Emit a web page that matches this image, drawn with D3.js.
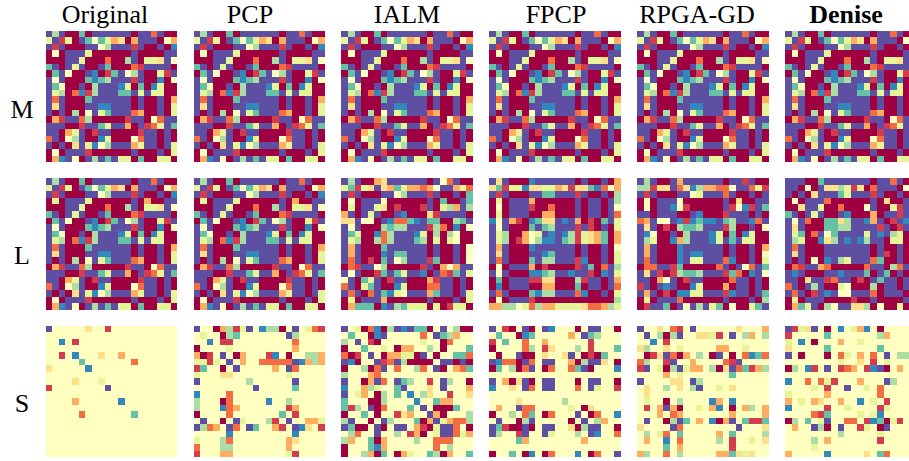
<!DOCTYPE html>
<html><head><meta charset="utf-8">
<script src="https://cdn.jsdelivr.net/npm/d3@7"></script>
<style>html,body{margin:0;padding:0;background:#fff;overflow:hidden}svg{display:block}
text{font-family:"Liberation Serif",serif;fill:#000}</style></head><body>
<script>
const methods=["Original","PCP","IALM","FPCP","RPGA-GD","Denise"];
const rowNames=["M","L","S"];
const titleCentres=[105,250,407,556,697,846];
const rowLabelY=[118,264,412];
// Each row is one string of 20 cells; 0..a (hex) = level on the Spectral scale, 5 = pale centre
const mOriginal=["a7a0080aaaaaa0aa2a00","6a160a85863403aaa053","a1a000aa57aaa1a00a09","050aaa6000000a0000aa","000aa60002007a0664a5","8a0a6a00a800021aaaa0","08a500a9018a57a0061a","a5a0008987aaa1a00905","a8500a07aaa960809600","a6702917aaa88a6a6600","a2a0008aaaaaa0a00a03","a4a000aa99aaa0a00a06","a0a0705a68aaa2300a06","031aa27000001aa052aa","aaa001aa86aa30a126a8","aa036a01aa00001aa0a0","2a057a009600052aa0a0","a0a04a6957aaa36aa0a6","050aaa1000000a000a06","039a50a7a8a660800660"];
const lOriginal=["a7a0080aaaaaa0aa2a00","6a160a85863403aaa053","a1a000aa57aaa1a00a09","060aaa6000000a0300aa","000aa60002007a0664a5","8a0a6a00a800021aaaa0","08a500a9018a57a0061a","a5a0008987aaa1a00905","a8500a07aaa960809600","a6702917aaa88a6a6600","a2a0008aaaaaa0a00a03","a4a000aa99aaa0a00a06","a0a0705a68aaa2300a06","031aa27000001aa052aa","aaa001aa86aa30a126a8","aa036a01aa00001aa0a0","2a057a009600052aa0a0","a0a04a6957aaa36aa0a6","050aaa1000000a000a06","039a50a7a8a660800660"];
const lPcp=lOriginal;
const lIalm=["a7a0034aaaaaa0a52a00","68164a438633235aa362","a1a000aa57aaa1a00a08","050aaa5000000a0800a8","060aa64010001a0673a7","3a0a6a00a900041aaaa0","44a550a92289a880078a","a5a0007877aaa1720905","a8600927aaa960707500","a6700727aaa870606500","a3a0008aaaaaa0a00a05","a3a0009a88aaa0a00a05","a2a0108a57aaa1800a05","021aa57000001a0353aa","a5a0018a86aa90a218a6","5a086a01aa00031aa0a0","2a068a009600022aa0a0","a2a02a8965aaa38aa0a6","060aaa3000000a000a06","0388809a786660601660"];
const lFpcp=["a4a0009aaaaaa0a00a03","48166944663414489253","a1a000aa88aaa1a00a07","060aaa3000000a0aa0a7","050aaa1002000a0aa0a5","060aaa0033000a0aa0a2","95a3109844a9a30108a6","a5a0008a87aaa1a10a06","a6700356a9a971643803","a670135799a871643803","a3a0009aaaaaa0a00a05","a4a000aa98aaa0a00a06","a2a0008a77aaa1900a06","050aaa30100001a802a7","a5a0009987aa9aa109a6","080aaa114400071aa0a3","090aaa003300080aa0a2","a2a0008977aaa2900a06","050aaa10000000000007","33775627336666422376"];
const lRpga=["a7a00a3aaaaaa0aa1a00","77144a249733225aa261","a1a000aa56aaa2a00a0a","050aaa5000000a0400aa","050aa95100000a1591a8","aa0aaa00a90001aaa0a0","23a55a919899a87aa92a","a4a0107887aaa1700a05","a9500a07aaa960809600","a7600937aaa96a8a6600","a3a0009aaaaaa0a00a03","a3a0009a99aaa0a00a05","a2a0009a66aaa2900a06","022aa18000002a0a52a8","a4a1017887aaa18209a5","aa035a01aa00002aa0a0","1a0a9a009600030aa0a0","a3a0109966aaa19aa0a8","060aaa2000000a000a07","01aa80a5a7a68050068a"];
const lDenise=["aaa008aaaaaaa0aa2a00","aa050a44761402aaa051","a0a04aaa86aaa1a00a0a","050aaa2000000a0400aa","004aa60020005a0061aa","8a0a6a00a900030aa1a0","a5a2008847aa93a01a9a","a4a0008877aaaa1a01a0","a6802a58aaaa6a9a7600","a7600947a9a97aa06600","a2a000aaaaaaa0a00a00","a4a000aaaaaaa0a10a00","a0a0509a76aaa2800a00","021aa32000002aa072aa","a9a000aa9aaa80a80a00","aa04aa12aa010a8aa0aa","2a0a7a006500070aa0aa","a2a01a9a55aaa20aaa0a","060aaa0000100a0000aa","0386a075aa4470500600"];
const sOriginal=["a5555545515555555555","55555555555555555555","55951555555555555555","55555555555555555555","55159555455355555555","55555855555552555555","45555595555555555555","55555555555555555555","55554555655555555555","155555555a5555555555","55555555555555555555","55553555555955555555","55555555555555555555","55555255555558555555","55555555555555555555","55555555555555555555","55555555555555555555","55555555555555555555","55555555555555555555","55555555555555555555"];
const sPcp=["a5503716a597705a5621","56550785555555a75555","55951155555555525555","05555655555555535555","3015a503555195055773","66165a535522222a9373","185505a5555535a25555","65554455555555655555","a55555557555555a5555","555555555a5555585555","95555255555555555555","75550255555955755555","75559235555555135555","05555255555558515555","5a5505a6555715a55336","a7235a25a855315a9451","55555955555555595555","65557255555555345555","25557755555555355555","15553355555555615555"];
const sIalm=["a5602907a9a8805a5700","585509a5555525a87355","75a51055555565502555","05585565033557505558","2015a5033660a5055882","a9055a12a700005aa0a0","055702a5255725a05328","75553255555555555555","a5503a25a875515a7550","955376558a55545a5553","a5635075859574551554","85550075555955833555","8175a0255585a5000855","0558505514355a305557","7a5505a7555803a63227","a8005a05aa53106aa250","57255a557513056aa263","73558035555755222555","05558935555555257555","05573085036558703558"];
const sFpcp=["a5105a05a955505aa550","58550985555535a87555","15855255355555515555","05555275145557515558","5055a0054554a5010855","a9220a25aa55307aa450","085702a5025528a05559","55555555555555555555","a5304a05aa55505aa550","95545a25aa55525a6551","55555555555555555555","55554555555755555555","5355a225555565045555","0557528502555a502559","5a5507a5555505a57355","a8100a05aa55407aa550","a7551a55a655575a9552","55558355555555355555","55555555555555555555","0558509502555950255a"];
const sRpga=["a5545215a55555545553","5a5707a5544615a57357","55951555555555555555","47554565555533556555","5014a2035750a5052982","27551a553555521a5555","1a5607a6335704a28137","55553565555555855555","a5555445a75555555555","545575457a5565455555","54555555555555555555","56550575555935955555","5153a305565395053753","55535235555555355553","5a5507a8535903a58118","45555a255555555a5554","57562585555535855557","53559525555575155654","55558535555555155555","37552575555533846455"];
const sDenise=["a164a505956395055555","15555585555555735555","65950555355655555555","45555585555555855555","a5055505265352 5a5775".replace(" ",""),"55555555655451565555","075915a5123519a05355","55555555555555555555","95525261555355 5a7555".replace(" ",""),"555565155a5565255555","65555535555555255555","35653455355956515555","95555515565555165555","55552185555656955555","075856a5522519806155","5355a705a55165 0a5555".replace(" ",""),"55555555755555655555","55557535555555155555","55556555555555555555","35555595555545825555"];

const panels=[
 [mOriginal,mOriginal,mOriginal,mOriginal,mOriginal,mOriginal],
 [lOriginal,lPcp,lIalm,lFpcp,lRpga,lDenise],
 [sOriginal,sPcp,sIalm,sFpcp,sRpga,sDenise]];

const W=909,H=461,size=131.5;
const svg=d3.select("body").append("svg").attr("width",W).attr("height",H);
svg.append("defs").append("filter").attr("id","soft").attr("x","-2%").attr("y","-2%").attr("width","104%").attr("height","104%")
  .append("feGaussianBlur").attr("stdDeviation",0.4);
const xPanel=d3.scalePoint().domain(methods).range([45.7,785]);
const yPanel=d3.scalePoint().domain(rowNames).range([30.7,325.7]);
const cell=d3.scaleBand().domain(d3.range(20)).range([0,size]);
const color=d3.scaleOrdinal().domain(d3.range(11)).range(d3.schemeSpectral[11]);

rowNames.forEach((rn,ri)=>methods.forEach((m,ci)=>{
  const g=svg.append("g").attr("transform",`translate(${xPanel(m)},${yPanel(rn)})`).attr("filter","url(#soft)");
  const cells=[];
  panels[ri][ci].forEach((row,r)=>d3.range(20).forEach(c=>{
    cells.push({r,c,v:parseInt(row[c],16)});
  }));
  g.selectAll("rect").data(cells).join("rect")
   .attr("x",d=>cell(d.c)).attr("y",d=>cell(d.r))
   .attr("width",cell.bandwidth()).attr("height",cell.bandwidth())
   .attr("shape-rendering","crispEdges")
   .attr("fill",d=>color(d.v));
}));
svg.selectAll("text.t").data(methods).join("text").attr("class","t")
 .attr("x",(d,i)=>titleCentres[i]).attr("y",23).attr("text-anchor","middle")
 .attr("font-size",26).attr("font-weight",d=>d==="Denise"?"bold":"normal").text(d=>d);
svg.selectAll("text.r").data(rowNames).join("text").attr("class","r")
 .attr("x",22).attr("y",(d,i)=>rowLabelY[i]).attr("text-anchor","middle")
 .attr("font-size",26).text(d=>d);
</script></body></html>
